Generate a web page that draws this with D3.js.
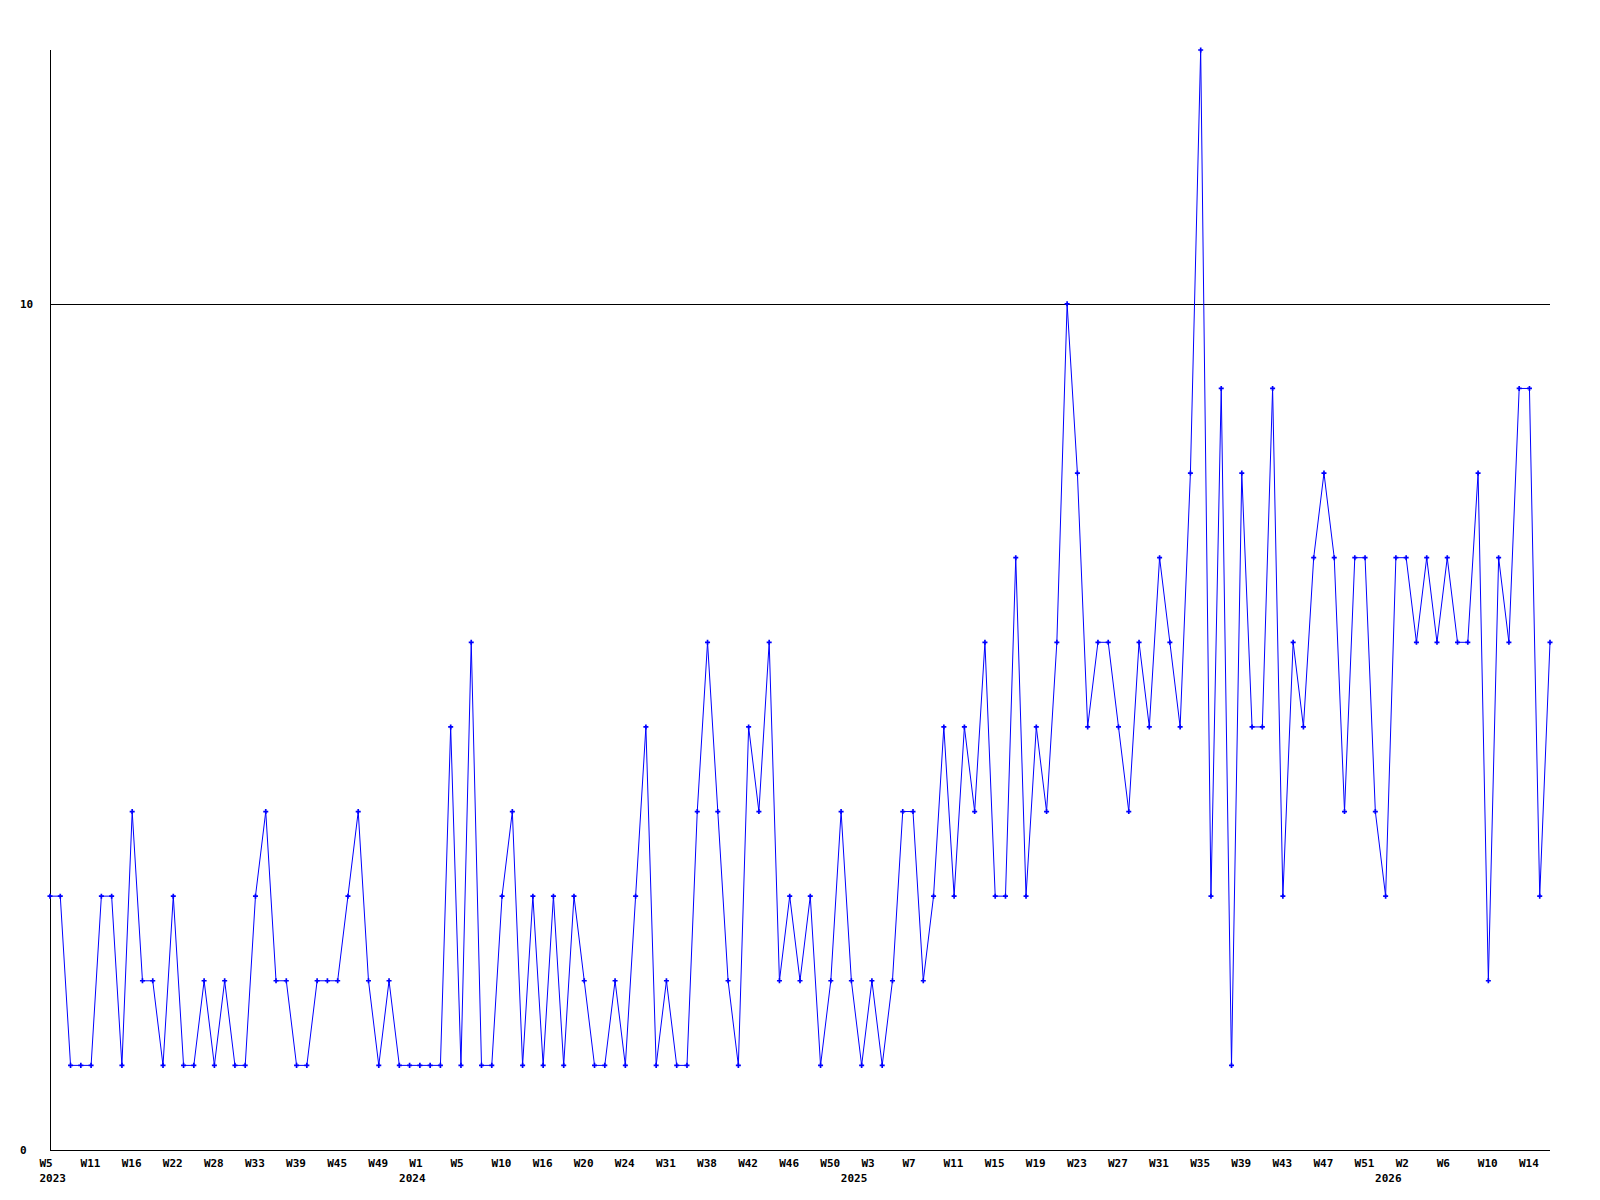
<!DOCTYPE html>
<html>
<head>
<meta charset="utf-8">
<script src="https://cdn.jsdelivr.net/npm/d3@7"></script>
<style>
  html, body { margin: 0; padding: 0; background: #fff; }
  svg text { font-family: "DejaVu Sans Mono", "Liberation Mono", monospace; font-weight: bold; font-size: 11px; fill: #000; }
</style>
</head>
<body>
<svg id="chart" width="1600" height="1200"></svg>
<script>
// Weekly counts (weeks with no entries omitted), one value per point
const values = [
  3,3,1,1,1,3,3,1,4,2,
  2,1,3,1,1,2,1,2,1,1,
  3,4,2,2,1,1,2,2,2,3,
  4,2,1,2,1,1,1,1,1,5,
  1,6,1,1,3,4,1,3,1,3,
  1,3,2,1,1,2,1,3,5,1,
  2,1,1,4,6,4,2,1,5,4,
  6,2,3,2,3,1,2,4,2,1,
  2,1,2,4,4,2,3,5,3,5,
  4,6,3,3,7,3,5,4,6,10,
  8,5,6,6,5,4,6,5,7,6,
  5,8,13,3,9,1,8,5,5,9,
  3,6,5,7,8,7,4,7,7,4,
  3,7,7,6,7,6,7,6,6,8,
  2,7,6,9,9,3,6
];
// Week tick labels, one every 4th point
const tickLabels = ["W5","W11","W16","W22","W28","W33","W39","W45","W49","W1",
  "W5","W10","W16","W20","W24","W31","W38","W42","W46","W50",
  "W3","W7","W11","W15","W19","W23","W27","W31","W35","W39",
  "W43","W47","W51","W2","W6","W10","W14"];
const tickEvery = 4;
// Year labels and the point index where each year starts
const yearLabels = ["2023","2024","2025","2026"];
const yearStarts = [0, 35, 78, 130];
// Y axis labels
const yTicks = [0, 10];
const yMax = 13;

(function () {
const svg = d3.select("#chart");
const mLeft = 50, mRight = 1550, mTop = 50, mBottom = 1150;

const idx = d3.range(values.length);
const x = d3.scalePoint().domain(idx).range([mLeft, mRight]);
const y = d3.scaleLinear().domain([0, yMax]).range([mBottom, mTop]);

// grid line(s) except 0
svg.selectAll("line.grid").data(yTicks.filter(t => t > 0)).enter()
  .append("line").attr("class", "grid")
  .attr("x1", mLeft).attr("x2", mRight)
  .attr("y1", d => Math.round(y(d)) + 0.5).attr("y2", d => Math.round(y(d)) + 0.5)
  .attr("stroke", "#000").attr("stroke-width", 1).attr("shape-rendering", "crispEdges");

// axes lines
svg.append("line").attr("x1", mLeft + 0.5).attr("x2", mLeft + 0.5).attr("y1", mTop).attr("y2", mBottom)
  .attr("stroke", "#000").attr("stroke-width", 1).attr("shape-rendering", "crispEdges");
svg.append("line").attr("x1", mLeft).attr("x2", mRight).attr("y1", mBottom + 0.5).attr("y2", mBottom + 0.5)
  .attr("stroke", "#000").attr("stroke-width", 1).attr("shape-rendering", "crispEdges");

// y labels
svg.selectAll("text.ylab").data(yTicks).enter().append("text").attr("class", "ylab")
  .attr("x", 20).attr("y", d => y(d) + 4).text(d => d);

// x week labels
svg.selectAll("text.xlab").data(tickLabels).enter().append("text").attr("class", "xlab")
  .attr("x", (d, i) => x(i * tickEvery) - 10.5).attr("y", 1167).text(d => d);

// year labels
svg.selectAll("text.yr").data(yearLabels).enter().append("text").attr("class", "yr")
  .attr("x", (d, i) => x(yearStarts[i]) - 10.5).attr("y", 1182).text(d => d);

// line
const line = d3.line().x((d, i) => x(i)).y(d => y(d));
svg.append("path").datum(values).attr("d", line)
  .attr("fill", "none").attr("stroke", "#0000ff").attr("stroke-width", 1);

// markers
const sym = d3.symbol().type(d3.symbolCross).size(14);
svg.selectAll("path.mk").data(values).enter().append("path").attr("class", "mk")
  .attr("transform", (d, i) => `translate(${x(i)},${y(d)})`)
  .attr("d", sym).attr("fill", "#0000ff");
})();
</script>
</body>
</html>
